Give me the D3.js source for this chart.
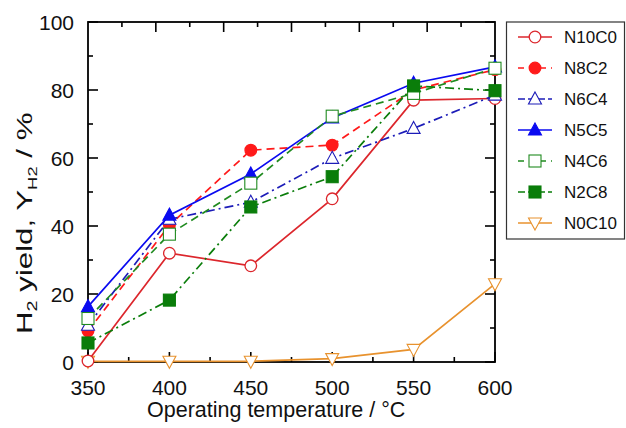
<!DOCTYPE html>
<html><head><meta charset="utf-8">
<script src="https://cdn.jsdelivr.net/npm/d3@7/dist/d3.min.js"></script>
<style>body{margin:0;background:#fff}svg{display:block;font-family:"Liberation Sans",Arial,sans-serif}</style>
</head><body><svg id="c" width="626" height="428"></svg>
<script>
const temps = [350, 400, 450, 500, 550, 600];
const seriesNames = ["N10C0", "N8C2", "N6C4", "N5C5", "N4C6", "N2C8", "N0C10"];
const N10C0 = [0.3, 32, 28.3, 48, 77, 77.5];
const N8C2  = [9.1, 40.2, 62.3, 63.8, 80, 86];
const N6C4  = [10.8, 42, 47, 59.9, 68.7, 78.5];
const N5C5  = [16.3, 43.2, 55.3, 71.8, 82, 86.8];
const N4C6  = [12.8, 37.6, 52.6, 72.3, 79, 86.4];
const N2C8  = [5.6, 18.2, 45.6, 54.5, 81.2, 79.8];
const N0C10 = [0.2, 0.2, 0.2, 1.0, 3.7, 23];
const xTicks = [350, 400, 450, 500, 550, 600];
const xMinor = [375, 425, 475, 525, 575];
const yTicks = [0, 20, 40, 60, 80, 100];
const yMinor = [10, 30, 50, 70, 90];

const styles = {
  N10C0: {color: "#dc262c", dash: null, marker: "circle", fill: false},
  N8C2:  {color: "#ff1a1a", dash: "8,5", marker: "circle", fill: true},
  N6C4:  {color: "#1c1cb8", dash: "9,4,2,4", marker: "triangle", fill: false},
  N5C5:  {color: "#0a0af0", dash: null, marker: "triangle", fill: true},
  N4C6:  {color: "#1f8a1f", dash: "8,5", marker: "square", fill: false},
  N2C8:  {color: "#0a7d0a", dash: "9,4,2,4", marker: "square", fill: true},
  N0C10: {color: "#e8922e", dash: null, marker: "triangleDown", fill: false}
};
const dataMap = {N10C0, N8C2, N6C4, N5C5, N4C6, N2C8, N0C10};

const svg = d3.select("#c");
const L = 88, R = 495, T = 22, B = 362;
const x = d3.scaleLinear().domain([350, 600]).range([L, R]);
const y = d3.scaleLinear().domain([0, 100]).range([B, T]);
const xTop = d3.scaleLinear().domain([0, 12]).range([L, R]);

// frame
svg.append("rect").attr("x", L).attr("y", T).attr("width", R - L).attr("height", B - T)
  .attr("fill", "none").attr("stroke", "#000").attr("stroke-width", 1.8);

const tk = svg.append("g").attr("stroke", "#000").attr("stroke-width", 1.6);
xTicks.forEach(v => tk.append("line").attr("x1", x(v)).attr("x2", x(v)).attr("y1", B).attr("y2", B - 10));
xMinor.forEach(v => tk.append("line").attr("x1", x(v)).attr("x2", x(v)).attr("y1", B).attr("y2", B - 5));
d3.range(1, 12).forEach(i => tk.append("line").attr("x1", xTop(i)).attr("x2", xTop(i)).attr("y1", T).attr("y2", T + (i % 2 === 0 ? 10 : 5)));
yTicks.forEach(v => {
  tk.append("line").attr("x1", L).attr("x2", L + 10).attr("y1", y(v)).attr("y2", y(v));
  tk.append("line").attr("x1", R).attr("x2", R - 10).attr("y1", y(v)).attr("y2", y(v));
});
yMinor.forEach(v => {
  tk.append("line").attr("x1", L).attr("x2", L + 5).attr("y1", y(v)).attr("y2", y(v));
  tk.append("line").attr("x1", R).attr("x2", R - 5).attr("y1", y(v)).attr("y2", y(v));
});

// tick labels
svg.append("g").selectAll("text").data(xTicks).join("text")
  .attr("x", d => x(d)).attr("y", 395).attr("text-anchor", "middle")
  .attr("font-size", 21).attr("fill", "#111").text(d => d);
svg.append("g").selectAll("text").data(yTicks).join("text")
  .attr("x", 74).attr("y", d => y(d)).attr("dy", "0.36em").attr("text-anchor", "end")
  .attr("font-size", 21).attr("fill", "#111").text(d => d);

// axis titles
svg.append("text").attr("x", 147).attr("y", 417).attr("font-size", 21.5).attr("fill", "#111")
  .text("Operating temperature / °C");
const yt = svg.append("text").attr("transform", "translate(32,334) rotate(-90) scale(1.42,1)")
  .attr("font-size", 22).attr("fill", "#111");
yt.append("tspan").text("H");
yt.append("tspan").attr("font-size", 14).attr("dy", 5).text("2");
yt.append("tspan").attr("dy", -5).text(" yield,  Y");
yt.append("tspan").attr("font-size", 13).attr("dy", 5).text("H2");
yt.append("tspan").attr("dy", -5).text(" / %");

function drawMarker(g, type, cx, cy, color, fill) {
  const f = fill ? color : "#fff";
  if (type === "circle") g.append("circle").attr("cx", cx).attr("cy", cy).attr("r", 5.8).attr("fill", f).attr("stroke", color).attr("stroke-width", 1.3);
  else if (type === "square") g.append("rect").attr("x", cx - 6).attr("y", cy - 6).attr("width", 12).attr("height", 12).attr("fill", f).attr("stroke", color).attr("stroke-width", 1.1);
  else if (type === "triangle") g.append("path").attr("d", `M${cx},${cy - 7}L${cx + 6.5},${cy + 5}L${cx - 6.5},${cy + 5}Z`).attr("fill", f).attr("stroke", color).attr("stroke-width", 1.1);
  else g.append("path").attr("d", `M${cx},${cy + 7}L${cx + 6.5},${cy - 5}L${cx - 6.5},${cy - 5}Z`).attr("fill", f).attr("stroke", color).attr("stroke-width", 1.1);
}

const line = d3.line().x((d, i) => x(temps[i])).y(d => y(d));
const plot = svg.append("g");
const drawOrder = ["N0C10", "N10C0", "N8C2", "N6C4", "N5C5", "N4C6", "N2C8"];
drawOrder.forEach(name => {
  const s = styles[name];
  plot.append("path").datum(dataMap[name]).attr("d", line).attr("fill", "none")
    .attr("stroke", s.color).attr("stroke-width", 1.7).attr("stroke-dasharray", s.dash);
  dataMap[name].forEach((v, i) => drawMarker(plot, s.marker, x(temps[i]), y(v), s.color, s.fill));
});

// legend
const lg = svg.append("g");
lg.append("rect").attr("x", 506.5).attr("y", 22).attr("width", 118).attr("height", 217)
  .attr("fill", "#fff").attr("stroke", "#333").attr("stroke-width", 1.2);
seriesNames.forEach((name, i) => {
  const s = styles[name];
  const cy = 37 + i * 31;
  lg.append("line").attr("x1", 518).attr("x2", 552).attr("y1", cy).attr("y2", cy)
    .attr("stroke", s.color).attr("stroke-width", 1.7).attr("stroke-dasharray", s.dash ? (s.dash === "8,5" ? "6,5" : "7,3") : null);
  drawMarker(lg, s.marker, 535, cy, s.color, s.fill);
  lg.append("text").attr("x", 564).attr("y", cy).attr("dy", "0.36em").attr("font-size", 17).attr("fill", "#111").text(name);
});
</script></body></html>
